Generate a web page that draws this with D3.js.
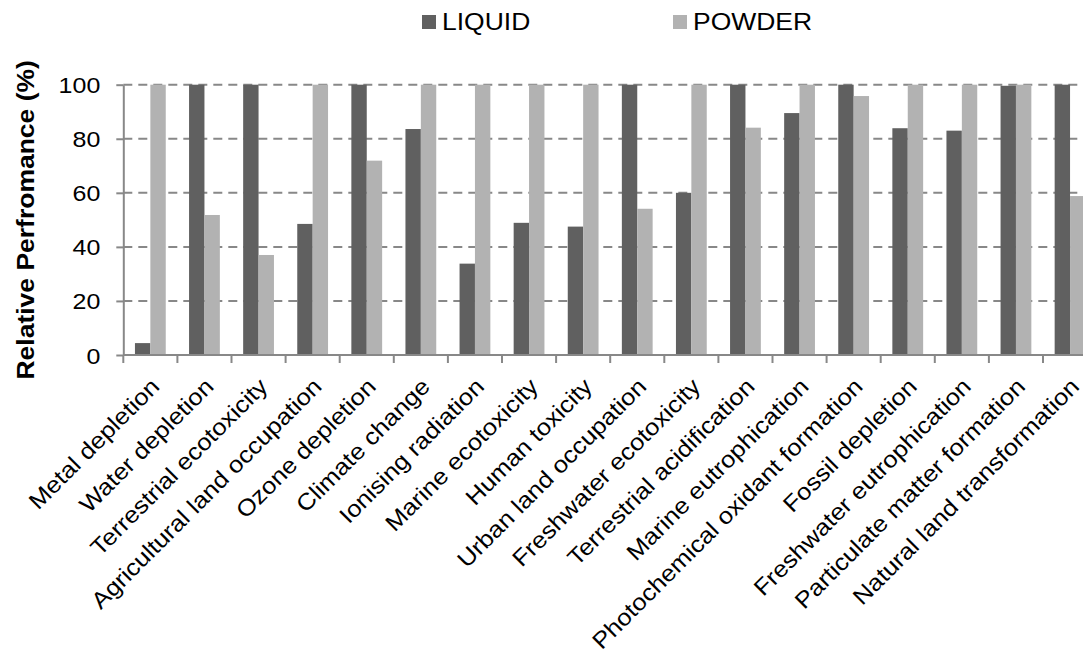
<!DOCTYPE html>
<html>
<head>
<meta charset="utf-8">
<script src="https://cdn.jsdelivr.net/npm/d3@7"></script>
<style>
  html, body { margin: 0; padding: 0; background: #fff; }
  svg { display: block; }
  text { font-family: Arial, "Liberation Sans", sans-serif; fill: #000; }
</style>
</head>
<body>
<svg id="chart" width="1083" height="659"></svg>
<script>
// Impact categories along the x axis
const categories = [
  "Metal depletion", "Water depletion", "Terrestrial ecotoxicity",
  "Agricultural land occupation", "Ozone depletion", "Climate change",
  "Ionising radiation", "Marine ecotoxicity", "Human toxicity",
  "Urban land occupation", "Freshwater ecotoxicity", "Terrestrial acidification",
  "Marine eutrophication", "Photochemical oxidant formation", "Fossil depletion",
  "Freshwater eutrophication", "Particulate matter formation", "Natural land transformation"
];

// Relative performance (%) of each formulation
const liquid = [4.4, 100, 100, 48.5, 100, 83.6, 33.8, 48.9, 47.5, 100, 60.0, 100, 89.5, 100, 83.9, 83.0, 99.6, 100];
const powder = [100, 51.8, 37.0, 100, 71.9, 100, 100, 100, 100, 54.1, 100, 84.1, 100, 95.8, 100, 100, 100, 58.8];

const seriesNames = ["LIQUID", "POWDER"];
const seriesColors = ["#606060", "#b2b2b2"];
const yTicks = [0, 20, 40, 60, 80, 100];
const yTitle = "Relative Perfromance (%)";

const svg = d3.select("#chart");

const plotLeft = 123.3, plotTop = 84.7, plotBottom = 355, step = 54.1;
const plotRight = plotLeft + step * categories.length;

const x0 = d3.scaleBand().domain(categories).range([plotLeft, plotRight]).padding(0);
const x1 = d3.scaleBand().domain(seriesNames).range([0, x0.bandwidth()])
  .paddingInner(0).paddingOuter(0.757);
const y = d3.scaleLinear().domain([0, 100]).range([plotBottom, plotTop]);

const axisColor = "#888888";

// dashed horizontal gridlines
svg.append("g").selectAll("line")
  .data(yTicks.filter(d => d > 0))
  .join("line")
  .attr("x1", plotLeft).attr("x2", 1083)
  .attr("y1", d => y(d)).attr("y2", d => y(d))
  .attr("stroke", axisColor).attr("stroke-width", 2)
  .attr("stroke-dasharray", "9,6");

// bars
const rows = categories.map((c, i) => ({ cat: c, vals: [liquid[i], powder[i]] }));
const groups = svg.append("g").selectAll("g")
  .data(rows).join("g")
  .attr("transform", d => `translate(${x0(d.cat)},0)`);
groups.selectAll("rect")
  .data(d => d.vals.map((v, k) => ({ key: seriesNames[k], v, k })))
  .join("rect")
  .attr("x", d => x1(d.key))
  .attr("width", x1.bandwidth())
  .attr("y", d => y(d.v))
  .attr("height", d => y(0) - y(d.v))
  .attr("fill", d => seriesColors[d.k]);

// y axis
const yAxis = svg.append("g")
  .attr("transform", `translate(${plotLeft},0)`)
  .call(d3.axisLeft(y).tickValues(yTicks).tickSize(7).tickPadding(16).tickSizeOuter(0));
yAxis.select(".domain").attr("stroke", axisColor).attr("stroke-width", 2);
yAxis.selectAll(".tick line").attr("stroke", axisColor).attr("stroke-width", 2);
yAxis.selectAll(".tick text")
  .attr("font-size", 25).attr("font-family", "Arial, 'Liberation Sans', sans-serif")
  .attr("fill", "#000").attr("dy", null)
  .attr("dominant-baseline", "central")
  .attr("transform", "scale(1,0.9)");

// x axis with ticks at category boundaries
const xAxis = svg.append("g").attr("transform", `translate(0,${plotBottom})`);
xAxis.append("line")
  .attr("x1", plotLeft).attr("x2", 1083)
  .attr("stroke", axisColor).attr("stroke-width", 2);
xAxis.selectAll("line.tk")
  .data(d3.range(categories.length + 1))
  .join("line").attr("class", "tk")
  .attr("x1", i => plotLeft + i * step).attr("x2", i => plotLeft + i * step)
  .attr("y1", 0).attr("y2", 8)
  .attr("stroke", axisColor).attr("stroke-width", 2);

// rotated category labels
svg.append("g").selectAll("text")
  .data(categories).join("text")
  .attr("text-anchor", "end")
  .attr("font-size", 25.6)
  .attr("transform", d => `translate(${x0(d) + x0.bandwidth() / 2 + 10.5},388) rotate(-45) scale(1,0.9)`)
  .text(d => d);

// y axis title
svg.append("text")
  .attr("text-anchor", "middle")
  .attr("font-size", 26.5).attr("font-weight", "bold")
  .attr("transform", `translate(34,${(plotTop + plotBottom) / 2}) rotate(-90) scale(1,0.9)`)
  .text(yTitle);

// legend
const legendX = [422, 673];
const legend = svg.append("g").selectAll("g")
  .data(seriesNames).join("g")
  .attr("transform", (d, i) => `translate(${legendX[i]},0)`);
legend.append("rect")
  .attr("x", 0).attr("y", 15).attr("width", 14).attr("height", 14)
  .attr("fill", (d, i) => seriesColors[i]);
legend.append("text")
  .attr("x", 20).attr("y", 0)
  .attr("font-size", 26.5)
  .attr("transform", "translate(0,30) scale(1,0.9)")
  .text(d => d);
</script>
</body>
</html>
